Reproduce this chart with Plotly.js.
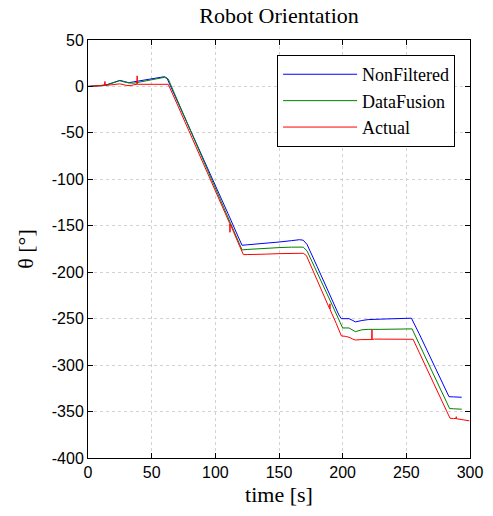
<!DOCTYPE html>
<html>
<head>
<meta charset="utf-8">
<script src="https://cdn.plot.ly/plotly-3.0.1.min.js"></script>
<style>html,body{margin:0;padding:0;background:#fff;}#chart{width:493px;height:516px;}</style>
</head>
<body>
<div id="chart"></div>
<script>
// NonFiltered
const tBlue = [0,5,10,15,20,25,28,32,36,40,45,50,55,60,62,70,80,90,100,110,118,121,125,130,140,150,160,166,169,172,180,190,197,199,205,208,210,215,220,230,240,250,254,260,270,280,283.5,287,293.5];
const yBlue = [0,0.3,1,2,4.5,6.5,5.5,4,5,6,7.5,8.5,9.5,10.5,9,-15,-46,-76,-107,-137,-162,-171,-170.5,-170,-168.5,-167.5,-166,-165,-165.5,-170,-194,-224,-246,-250,-250,-252,-253.5,-252,-251,-250.5,-250,-249.5,-249.5,-266,-295,-324,-334,-334.2,-334.6];
// DataFusion
const tGreen = [0,5,10,15,20,25,28,32,36,40,45,50,55,60,63,70,80,90,100,110,118,121,125,130,140,150,160,166,169,172,180,190,198,200,205,208,210,215,220,230,240,250,254.5,260,270,280,284,287,293.5];
const yGreen = [0,0.2,0.8,1.8,4,6.2,5,3.8,3.5,4.5,5.9,7,8.5,9.8,8,-14,-46,-78,-109,-141,-166.5,-176,-175.5,-175,-174,-173.5,-173,-172.5,-173,-177,-200,-230,-254,-260,-260,-262,-264,-262,-261.5,-261.5,-261,-261,-261,-277,-306,-335,-346.8,-347,-347.5];
// Actual
const tRed = [0,5,10,13,13.3,13.6,15,20,25,30,33,36,38.4,38.6,38.8,40,45,50,55,60,63,70,80,90,100,110,111.3,111.5,111.7,112,118,122,125,130,140,150,160,166,169,171.5,180,189,189.8,190,190.2,195,199,202,205,208,210,215,220,222.8,223,223.2,225,230,240,250,255.3,260,270,280,284.3,287,289,289.2,289.4,293,297.8,299.5];
const yRed = [0,0.3,0.8,1,5.4,1,1.2,1.8,2.8,1.2,0.8,1.8,2.3,11.4,2.3,2.3,2.4,2.4,2.4,2.4,2.3,-19,-50,-81.5,-112.5,-143.5,-147.5,-157,-148,-149,-168.5,-181,-181,-181,-180.5,-180,-180,-179.6,-179.6,-182,-208.8,-237,-239.5,-234,-240.5,-255.3,-268.6,-269,-270,-272,-273,-272.5,-272.5,-272.5,-262,-272.5,-272,-272,-272.5,-272,-272.2,-286,-315.5,-344.6,-357.2,-357.5,-357.5,-355.5,-357.8,-358.5,-359.8,-360];

const xTicks = [0,50,100,150,200,250,300];
const yTicks = [50,0,-50,-100,-150,-200,-250,-300,-350,-400];

const serif = 'Liberation Serif, Times New Roman, serif';
const sans = 'Liberation Sans, Arial, sans-serif';

const traces = [
  {x: tBlue, y: yBlue, name: 'NonFiltered', mode: 'lines', line: {color: '#0000ff', width: 1}},
  {x: tGreen, y: yGreen, name: 'DataFusion', mode: 'lines', line: {color: '#008000', width: 1}},
  {x: tRed, y: yRed, name: 'Actual', mode: 'lines', line: {color: '#ff0000', width: 1}}
];

const axisCommon = {
  showline: true, linecolor: '#000', linewidth: 1, mirror: 'ticks',
  ticks: 'inside', ticklen: 5, tickcolor: '#000', tickwidth: 1,
  showgrid: true, gridcolor: '#d2d2d2', griddash: 'dot', gridwidth: 1,
  zeroline: false, tickfont: {family: sans, size: 16, color: '#000'}
};

const layout = {
  width: 493, height: 516,
  margin: {l: 88, r: 23, t: 40, b: 58},
  paper_bgcolor: '#fff', plot_bgcolor: '#fff',
  title: {text: 'Robot Orientation', font: {family: serif, size: 22, color: '#000'}, x: 0.566, xanchor: 'center', y: 0.985, yanchor: 'top'},
  xaxis: Object.assign({}, axisCommon, {range: [0, 300], tickvals: xTicks, ticktext: xTicks.map(String),
    title: {text: 'time [s]', font: {family: serif, size: 22, color: '#000'}, standoff: 6}}),
  yaxis: Object.assign({}, axisCommon, {range: [-400, 50], tickvals: yTicks, ticktext: yTicks.map(String),
    title: {text: 'θ [°]', font: {family: serif, size: 22, color: '#000'}, standoff: 12}}),
  showlegend: true,
  legend: {x: 0.495, xanchor: 'left', y: 0.964, yanchor: 'top', bgcolor: '#fff', bordercolor: '#000', borderwidth: 1,
    font: {family: serif, size: 18, color: '#000'}, itemwidth: 74, tracegroupgap: 0}
};

Plotly.newPlot('chart', traces, layout, {displayModeBar: false, staticPlot: true});
</script>
</body>
</html>
